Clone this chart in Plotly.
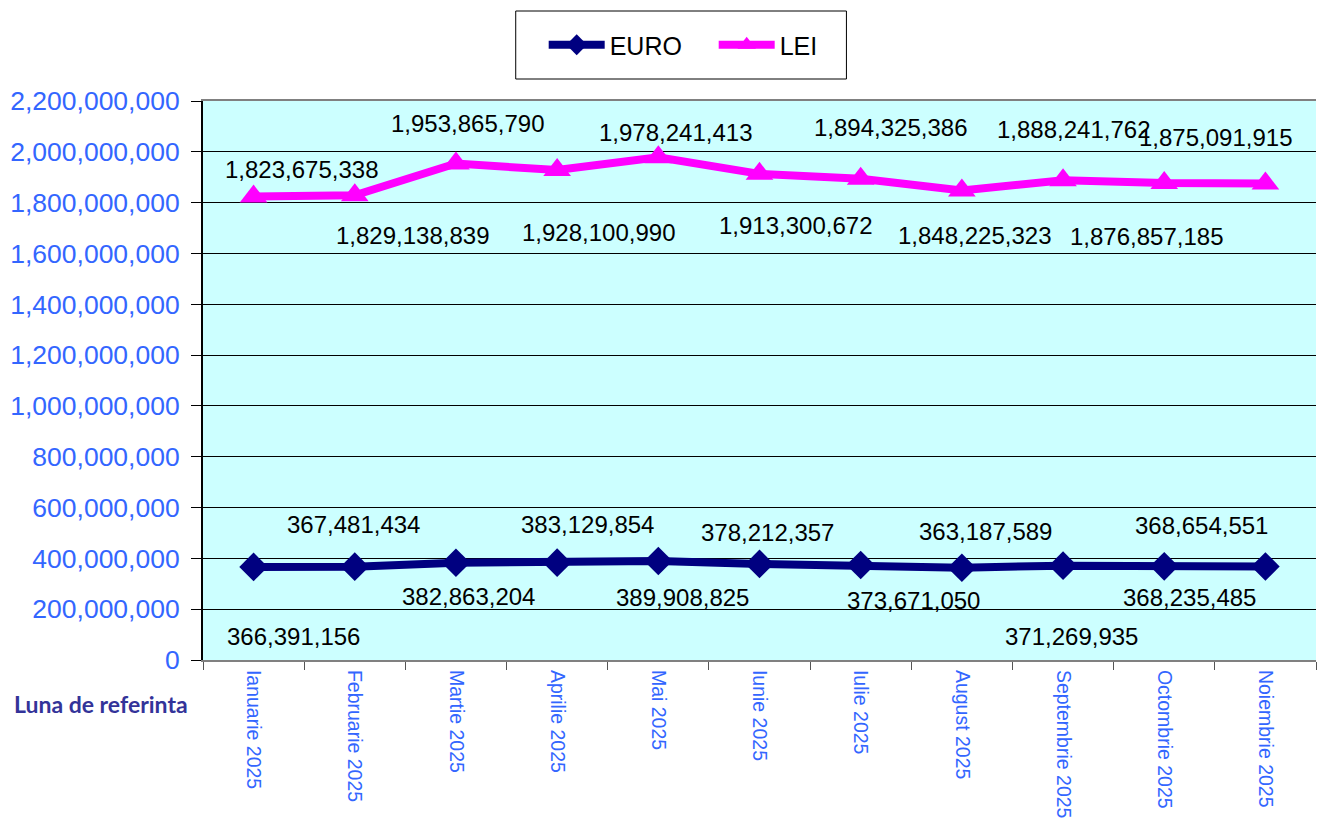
import plotly.graph_objects as go

months = ["Ianuarie 2025", "Februarie 2025", "Martie 2025", "Aprilie 2025", "Mai 2025",
          "Iunie 2025", "Iulie 2025", "August 2025", "Septembrie 2025", "Octombrie 2025",
          "Noiembrie 2025"]
euro = [366391156, 367481434, 382863204, 383129854, 389908825, 378212357,
        373671050, 363187589, 371269935, 368654551, 368235485]
lei = [1823675338, 1829138839, 1953865790, 1928100990, 1978241413, 1913300672,
       1894325386, 1848225323, 1888241762, 1876857185, 1875091915]

# label offsets in pixels (x, y) relative to each point
lei_off = [(48, 27), (58, -40), (12, 40), (41, -62), (17, 25), (36, -52),
           (30, 51), (13, -45), (10, 51), (-18, -53), (-50, 46)]
euro_off = [(40, -70), (-1, 42), (13, -34), (30, 38), (24, -37), (8, 31),
            (53, -35), (24, 36), (8, -71), (37, 41), (-76, -31)]

LBL = dict(family="Liberation Sans, Arial", size=24, color="black")

fig = go.Figure()
fig.add_trace(go.Scatter(x=months, y=euro, name="EURO", mode="lines+markers",
                         line=dict(color="#000080", width=8),
                         marker=dict(symbol="diamond", size=22, color="#000080")))
fig.add_trace(go.Scatter(x=months, y=lei, name="LEI", mode="lines+markers",
                         line=dict(color="#FF00FF", width=8),
                         marker=dict(symbol="triangle-up", size=24, color="#FF00FF")))

ann = []
for m, v, (dx, dy) in zip(months, lei, lei_off):
    ann.append(dict(x=m, y=v, xref="x", yref="y", text=f"{v:,}", showarrow=False,
                    xshift=dx, yshift=dy, font=LBL))
for m, v, (dx, dy) in zip(months, euro, euro_off):
    ann.append(dict(x=m, y=v, xref="x", yref="y", text=f"{v:,}", showarrow=False,
                    xshift=dx, yshift=dy, font=LBL))
ann.append(dict(x=-191 / 1114, y=-44 / 559, xref="paper", yref="paper",
                xanchor="left", yanchor="middle", showarrow=False,
                text="<b>Luna de referinta</b>",
                font=dict(family="Lato", size=23, color="#333399")))

fig.update_layout(
    width=1317, height=820,
    margin=dict(l=203, r=1, t=101, b=160, autoexpand=False),
    paper_bgcolor="white", plot_bgcolor="#CCFFFF",
    annotations=ann,
    showlegend=True,
    legend=dict(orientation="h", x=(544 - 203) / 1114, y=(660 - 45) / 559,
                xanchor="left", yanchor="middle", bgcolor="rgba(0,0,0,0)",
                borderwidth=0, itemwidth=56, entrywidth=99,
                font=dict(family="Liberation Sans, Arial", size=25, color="black")),
    shapes=[dict(type="rect", xref="paper", yref="paper",
                 x0=(516 - 203) / 1114, x1=(847 - 203) / 1114,
                 y0=(660 - 79) / 559, y1=(660 - 11) / 559,
                 line=dict(color="black", width=1), fillcolor="white", layer="below")],
    xaxis=dict(type="category", range=[-0.5, 10.5], showgrid=False,
               showline=True, linecolor="#808080", linewidth=2, mirror=True,
               ticks="outside", ticklen=8, tickcolor="#555555", tickson="boundaries",
               tickangle=90, ticklabelstandoff=4,
               tickfont=dict(family="Liberation Sans, Arial", size=19.5, color="#3366FF")),
    yaxis=dict(range=[0, 2.2e9], dtick=2e8, tickformat=",", showgrid=True,
               gridcolor="black", gridwidth=1, zeroline=False,
               showline=True, linecolor="black", linewidth=2,
               ticks="outside", ticklen=10, tickcolor="black", ticklabelstandoff=6,
               tickfont=dict(family="Liberation Sans, Arial", size=26.5, color="#3366FF")),
)
fig.write_html("out.html", config={"displayModeBar": False},
               post_script="document.body.style.margin='0';")
